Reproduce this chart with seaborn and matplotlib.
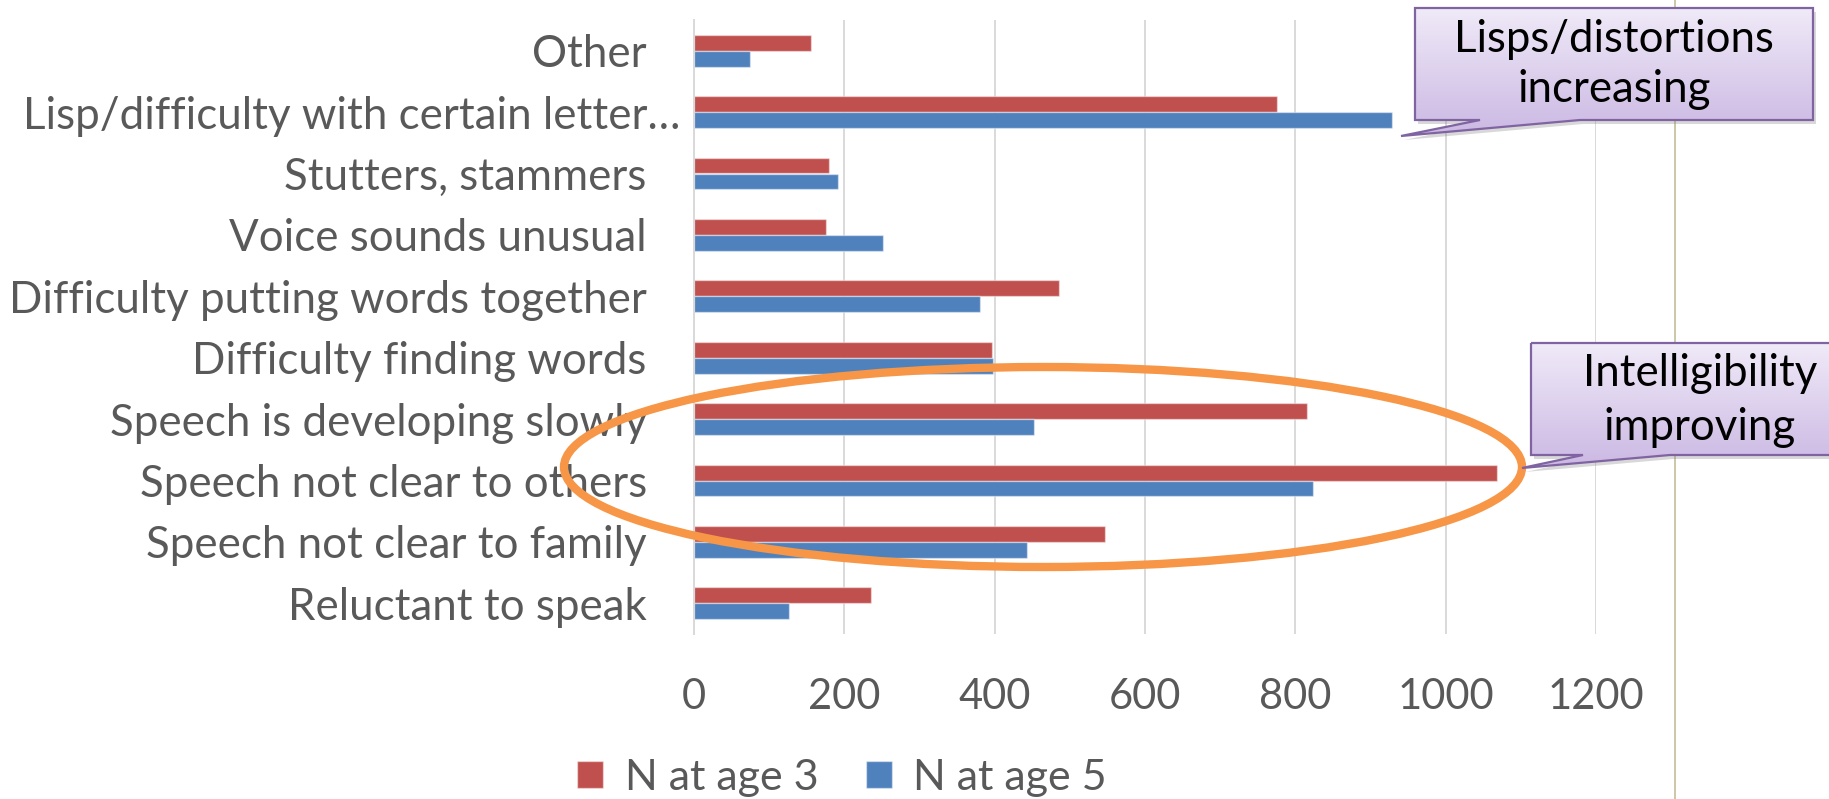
import numpy as np
import pandas as pd
import matplotlib
matplotlib.use("Agg")
import matplotlib.pyplot as plt
import matplotlib.transforms as mtransforms
from matplotlib.patches import Polygon, Ellipse
from matplotlib.colors import LinearSegmentedColormap
import seaborn as sns

# ---- data -------------------------------------------------------------
categories = [
    "Other",
    "Lisp/difficulty with certain letter\u2026",
    "Stutters, stammers",
    "Voice sounds unusual",
    "Difficulty putting words together",
    "Difficulty finding words",
    "Speech is developing slowly",
    "Speech not clear to others",
    "Speech not clear to family",
    "Reluctant to speak",
]
series = ["N at age 3", "N at age 5"]
n_age3 = [155, 775, 180, 175, 485, 397, 815, 1068, 547, 236]
n_age5 = [75, 929, 191, 252, 381, 398, 452, 824, 443, 127]
x_ticks = [0, 200, 400, 600, 800, 1000, 1200]

callout_top = ["Lisps/distortions", "increasing"]
callout_mid = ["Intelligibility", "improving"]

df = pd.DataFrame({
    "category": categories * 2,
    "series": [series[0]] * len(categories) + [series[1]] * len(categories),
    "value": n_age3 + n_age5,
})

# ---- style ------------------------------------------------------------
sns.set_theme(style="white")
plt.rcParams["font.family"] = ["Lato", "DejaVu Sans"]

RED = "#C0504D"
BLUE = "#4F81BD"
GRID = "#D9D9D9"
TEXT = "#595959"

W, H = 1829, 799
fig = plt.figure(figsize=(W / 100, H / 100), dpi=100)
fig.patch.set_facecolor("white")

ax = fig.add_axes([694 / W, 1 - 634 / H, (1596 - 694) / W, (634 - 20) / H])
sns.barplot(
    data=df, y="category", x="value", hue="series",
    order=categories, hue_order=series, palette=[RED, BLUE],
    orient="h", width=0.515, saturation=1, errorbar=None,
    edgecolor=(1, 1, 1, 0.45), linewidth=1.0, ax=ax,
)
handles, labels = ax.get_legend_handles_labels()
ax.get_legend().remove()

ax.set_xlim(0, 1200)
ax.set_xticks(x_ticks)
ax.set_xticklabels([str(t) for t in x_ticks])
ax.set_xlabel("")
ax.set_ylabel("")
ax.grid(axis="x", color=GRID, linewidth=1.4)
ax.grid(axis="y", visible=False)
ax.set_axisbelow(True)
for side in ["top", "right", "bottom"]:
    ax.spines[side].set_visible(False)
ax.spines["left"].set_color(GRID)
ax.spines["left"].set_linewidth(1.4)
ax.tick_params(axis="both", length=0, colors=TEXT)
ax.tick_params(axis="y", labelsize=31.6, pad=34)
ax.tick_params(axis="x", labelsize=30, pad=32)

# the truncated label sits closer to the axis
for lab in ax.get_yticklabels():
    if lab.get_text().endswith("\u2026"):
        lab.set_transform(lab.get_transform() +
                          mtransforms.ScaledTranslation(0.34, 0, fig.dpi_scale_trans))

fig.legend(
    handles, labels, loc="center", bbox_to_anchor=(842 / W, 1 - 778 / H),
    ncol=2, frameon=False, fontsize=31, labelcolor=TEXT,
    handlelength=0.6, handleheight=0.6, handletextpad=0.5, columnspacing=1.1,
)

# ---- overlay drawn in pixel coordinates --------------------------------
ov = fig.add_axes([0, 0, 1, 1], zorder=5)
ov.set_xlim(0, W)
ov.set_ylim(H, 0)
ov.set_autoscale_on(False)
ov.axis("off")
ov.patch.set_alpha(0)

# chart frame edge
ov.plot([1675, 1675], [0, H], color="#C4BD97", linewidth=1.2)

# highlight ring around the intelligibility rows
ov.add_patch(Ellipse((1043, 467), 958, 200, fill=False,
                     edgecolor="#F79646", linewidth=6))

grad_cmap = LinearSegmentedColormap.from_list("callout", ["#F0EAF8", "#CBB8E3"])


def callout(x0, y0, x1, y1, tip, base0, base1, lines, cx, baselines):
    pts = [(x0, y0), (x1, y0), (x1, y1), (base1, y1), tip, (base0, y1), (x0, y1)]
    shadow = Polygon([(px + 3, py + 4) for px, py in pts], closed=True,
                     facecolor="#808080", edgecolor="none", alpha=0.3, zorder=6)
    ov.add_patch(shadow)
    body = Polygon(pts, closed=True, facecolor="none", edgecolor="none", zorder=7)
    ov.add_patch(body)
    grad = np.linspace(0, 1, 256).reshape(-1, 1)
    img = ov.imshow(grad, extent=(x0, x1, max(y1, tip[1]), y0), cmap=grad_cmap,
                    aspect="auto", origin="upper", zorder=7, interpolation="bilinear")
    img.set_clip_path(body)
    border = Polygon(pts, closed=True, facecolor="none", edgecolor="#8064A2",
                     linewidth=1.6, zorder=8)
    ov.add_patch(border)
    for txt, by in zip(lines, baselines):
        ov.text(cx, by, txt, ha="center", va="baseline", fontsize=31.5,
                color="black", zorder=9)


callout(1415, 8, 1813, 120, (1401, 136), 1480, 1580, callout_top, 1614, [52, 102])
callout(1531, 343, 1880, 455, (1522, 468), 1583, 1670, callout_mid, 1700, [386, 440])

fig.savefig("out.png", dpi=100, facecolor="white")
